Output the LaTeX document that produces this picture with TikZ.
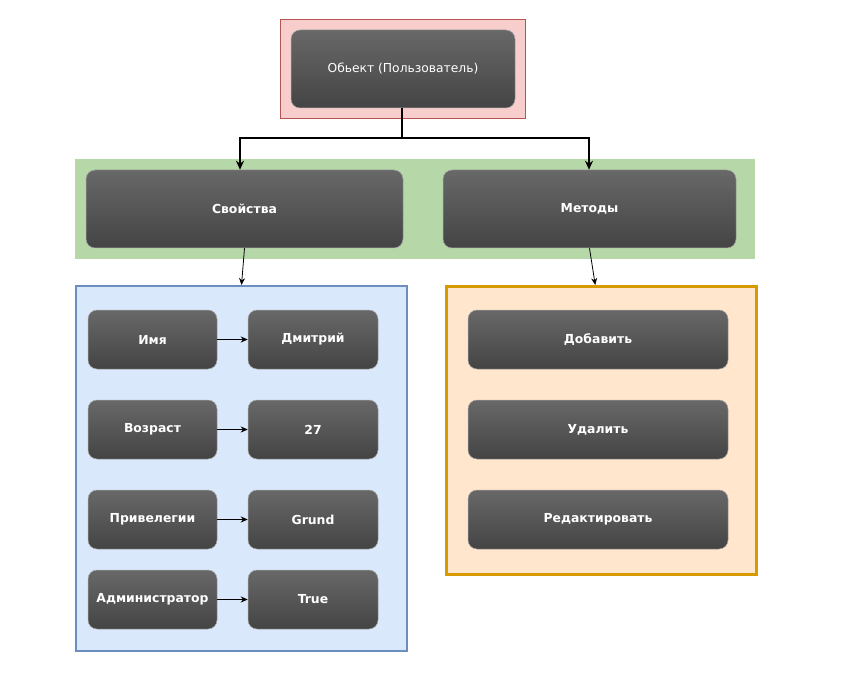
\documentclass[tikz,border=0pt]{standalone}
\usepackage{fontspec}
\setmainfont{DejaVu Sans}
\usetikzlibrary{arrows.meta}
\definecolor{gtop}{HTML}{686868}
\definecolor{gbot}{HTML}{444444}
\definecolor{redfill}{HTML}{F8CECC}
\definecolor{redline}{HTML}{B85450}
\definecolor{greenfill}{HTML}{B6D7A8}
\definecolor{bluefill}{HTML}{DAE8FC}
\definecolor{blueline}{HTML}{6C8EBF}
\definecolor{orfill}{HTML}{FFE6CC}
\definecolor{orline}{HTML}{D79B00}
\tikzset{
  darkbox/.style={rounded corners=9pt, top color=gtop, bottom color=gbot, draw=black!35, line width=0.5pt,
    text=white, font=\fontsize{12.4}{14}\selectfont\bfseries, inner sep=0pt},
  cont/.style={inner sep=0pt, anchor=north west},
  thinarrow/.style={line width=0.8pt, -{Stealth[length=7pt,width=6pt]}},
  thickarrow/.style={line width=2pt, -{Stealth[length=9pt,width=8pt]}},
}
\begin{document}
\begin{tikzpicture}[x=1pt,y=-1pt]
\useasboundingbox (0,0) rectangle (841,679);
% containers
\node[cont, fill=redfill, draw=redline, line width=1pt, minimum width=245pt, minimum height=99pt] (red) at (280,19) {};
\node[cont, fill=greenfill, minimum width=680pt, minimum height=100pt] (green) at (75,159) {};
\node[cont, fill=bluefill, draw=blueline, line width=2pt, minimum width=331pt, minimum height=365pt] (blue) at (75,285) {};
\node[cont, fill=orfill, draw=orline, line width=2.5pt, minimum width=310pt, minimum height=288pt] (ora) at (445,285) {};
% top
\node[darkbox, font=\fontsize{12.3}{14}\selectfont, minimum width=224pt, minimum height=78pt] (obj) at (403,69) {Обьект (Пользователь)};
\node[darkbox, minimum width=317pt, minimum height=78pt] (svo) at (244.5,209) {Свойства};
\node[darkbox, minimum width=293pt, minimum height=78pt] (met) at (589.5,209) {Методы};
% properties
\foreach \n/\t/\v/\y in {a/Имя/Дмитрий/339.5, b/Возраст/27/429.5, c/Привелегии/Grund/519.5, d/Администратор/True/599.5}{
  \node[darkbox, minimum width=129pt, minimum height=59pt] (k\n) at (152.5,\y) {\t};
  \node[darkbox, minimum width=130pt, minimum height=59pt] (v\n) at (313,\y) {\v};
  \draw[thinarrow] (k\n) -- (v\n);
}
% methods
\node[darkbox, minimum width=260pt, minimum height=59pt] (m1) at (598,339.5) {Добавить};
\node[darkbox, minimum width=260pt, minimum height=59pt] (m2) at (598,429.5) {Удалить};
\node[darkbox, minimum width=260pt, minimum height=59pt] (m3) at (598,519.5) {Редактировать};
% connectors
\coordinate (j) at (402,138);
\draw[line width=2pt] ([xshift=-1pt]obj.south) -- (j);
\draw[thickarrow] (j) -| ([xshift=-4.5pt]svo.north);
\draw[thickarrow] (j) -| ([xshift=-0.5pt]met.north);
\draw[thinarrow] (svo.south) -- (blue.north);
\draw[thinarrow] (met.south) -- ([xshift=-6pt]ora.north);
\end{tikzpicture}
\end{document}
